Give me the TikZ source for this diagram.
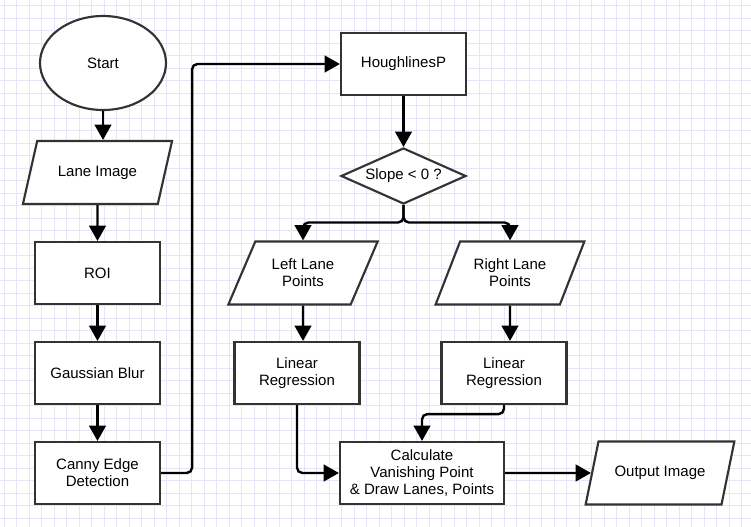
\documentclass[tikz,border=0pt]{standalone}
\usepackage{fontspec}
\setmainfont{Liberation Sans}
\usetikzlibrary{arrows.meta, shapes.geometric}
\definecolor{edge}{HTML}{333333}
\definecolor{gridc}{HTML}{E6E4F8}
\tikzset{
  proc/.style={draw=edge, fill=white, align=center, font=\fontsize{11.25}{12.75}\selectfont,
               minimum width=93.75pt, minimum height=46.5pt, inner sep=2pt, line width=1.6pt},
  io/.style={trapezium, trapezium left angle=59, trapezium right angle=121, trapezium stretches=true,
             draw=edge, fill=white, align=center, font=\fontsize{11.25}{12.75}\selectfont,
             minimum width=112.5pt, minimum height=47.25pt, inner sep=1pt, line width=1.6pt},
  dec/.style={diamond, aspect=2.27, draw=edge, fill=white, align=center, font=\fontsize{11.25}{12.75}\selectfont,
              minimum width=93.75pt, minimum height=42pt, inner sep=0pt, line width=1.6pt},
  term/.style={ellipse, draw=edge, fill=white, font=\fontsize{11.25}{12.75}\selectfont,
               minimum width=94.5pt, minimum height=70.5pt, inner sep=0pt, line width=1.6pt},
  arr/.style={-{Triangle[length=11.5pt, width=12.5pt]}, line width=1.8pt, rounded corners=4pt},
  gridl/.style={draw=gridc, line width=0.75pt},
}

\begin{document}
\begin{tikzpicture}[x=0.75pt, y=-0.75pt]
    % paper
    \useasboundingbox (0,0) rectangle (751,527);
    \fill[white] (0,0) rectangle (751,527);
    \foreach \gx in {0,...,59} \draw[gridl] (4.3+12.5*\gx,0) -- (4.3+12.5*\gx,527);
    \foreach \gy in {0,...,41} \draw[gridl] (0,6+12.5*\gy) -- (751,6+12.5*\gy);

    % preprocessing
    \node[term] (start) at (103,63)    {Start};
    \node[io]   (lane)  at (97.5,172.5) {Lane Image};
    \node[proc] (roi)   at (97.5,273)  {ROI};
    \node[proc] (blur)  at (97.5,373)  {Gaussian Blur};
    \node[proc] (canny) at (97.5,473)  {Canny Edge\\Detection};
    % lines
    \node[proc] (hough) at (403.5,64)  {HoughlinesP};
    \node[dec]  (slope) at (403.5,176) {Slope < 0 ?};
    \node[io]   (llp)   at (303,273)   {Left Lane\\Points};
    \node[io]   (rlp)   at (510,273)   {Right Lane\\Points};
    \node[proc] (lreg)  at (297,373)   {Linear\\Regression};
    \node[proc] (rreg)  at (504,373)   {Linear\\Regression};
    % result
    \node[proc, minimum width=123pt] (calc) at (422,473)
         {Calculate\\Vanishing Point\\\& Draw Lanes, Points};
    \node[io]   (out)   at (660,473)   {Output Image};
    \coordinate (br) at (403.5,222.5);

    \draw[arr] (start) -- (start |- lane.north);
    \draw[arr] (lane) -- (roi);
    \draw[arr] (roi) -- (blur);
    \draw[arr] (blur) -- (canny);
    \draw[arr] (canny.east) -- ++(31,0) |- (hough.west);
    \draw[arr] (hough) -- (slope);
    \draw[arr] (slope.south) -- (br) -| (llp.north);
    \draw[arr] (slope.south) -- (br) -| (rlp.north);
    \draw[arr] (llp) -- (llp |- lreg.north);
    \draw[arr] (rlp) -- (rlp |- rreg.north);
    \draw[arr] (lreg.south) |- (calc.west);
    \draw[arr] (rreg.south) -- ++(0,9) -| (calc.north);
    \draw[arr] (calc) -- (out);
  \end{tikzpicture}
\end{document}
